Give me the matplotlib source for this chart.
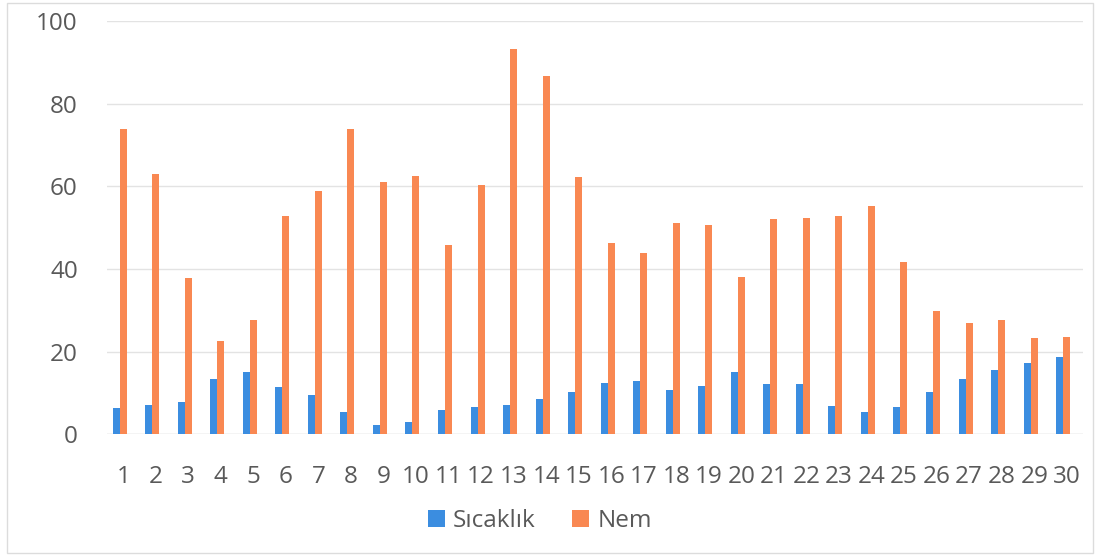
import matplotlib
matplotlib.use("Agg")
import matplotlib.pyplot as plt
from matplotlib.patches import Rectangle
import numpy as np

# Daily readings for one month
days = [str(d) for d in range(1, 31)]
sicaklik = [6.3, 7.1, 7.9, 13.3, 15.1, 11.4, 9.5, 5.3, 2.3, 3.0,
            5.9, 6.7, 7.1, 8.5, 10.2, 12.5, 12.8, 10.7, 11.7, 15.0,
            12.2, 12.2, 6.9, 5.3, 6.6, 10.3, 13.5, 15.6, 17.3, 18.6]
nem = [73.9, 62.9, 37.9, 22.6, 27.6, 52.7, 58.9, 73.9, 61.1, 62.5,
       45.8, 60.3, 93.2, 86.7, 62.3, 46.2, 43.8, 51.1, 50.7, 38.1,
       52.1, 52.4, 52.7, 55.3, 41.6, 29.9, 26.9, 27.7, 23.3, 23.5]
series_names = ["Sıcaklık", "Nem"]
y_ticks = [0, 20, 40, 60, 80, 100]

BLUE = "#3b8de0"
ORANGE = "#f98852"
TEXT = "#595959"
GRID = "#e3e3e3"

plt.rcParams["font.family"] = ["Open Sans", "DejaVu Sans"]

fig = plt.figure(figsize=(10.99, 5.56), dpi=100)
fig.patch.set_facecolor("white")
ax = fig.add_axes([107 / 1099, 1 - 434.3 / 556, (1083 - 107) / 1099, (434.3 - 21) / 556])

x = np.arange(len(days))
w = 0.215
shift = -0.11
ax.bar(x + shift - w / 2, sicaklik, width=w, color=BLUE, label=series_names[0], zorder=3)
ax.bar(x + shift + w / 2, nem, width=w, color=ORANGE, label=series_names[1], zorder=3)

ax.set_xlim(-0.5, len(days) - 0.5)
ax.set_ylim(0, 100)
ax.set_yticks(y_ticks)
ax.set_xticks(x)
ax.set_xticklabels(days)

ax.grid(axis="y", color=GRID, linewidth=1.0, zorder=0)
ax.set_axisbelow(True)
for s in ax.spines.values():
    s.set_visible(False)
ax.axhline(0, color=GRID, linewidth=1.0, zorder=1)

ax.tick_params(axis="both", length=0, labelsize=17.5, labelcolor=TEXT)
ax.tick_params(axis="y", pad=21)
ax.tick_params(axis="x", pad=22)

fig.legend(loc="center", bbox_to_anchor=(540 / 1099, 1 - 521 / 556),
           ncol=2, frameon=False, fontsize=17.5, labelcolor=TEXT,
           handlelength=0.68, handleheight=0.68, handletextpad=0.35,
           columnspacing=1.5)

# light outer frame of the chart area
fig.add_artist(Rectangle((7 / 1099, 3 / 556), (1093 - 7) / 1099, (553 - 3) / 556,
                         transform=fig.transFigure, fill=False,
                         edgecolor="#dcdcdc", linewidth=1.0))

fig.savefig("out.png", dpi=100)
